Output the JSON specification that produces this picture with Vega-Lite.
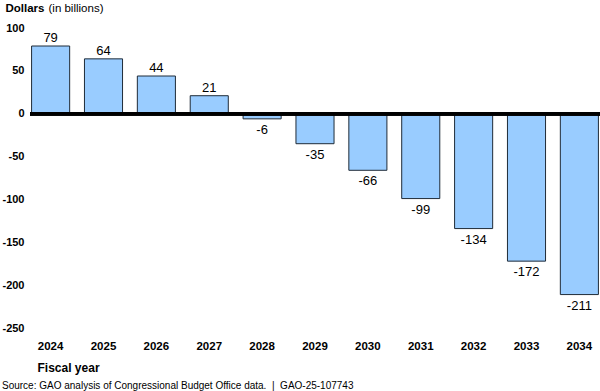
{
  "$schema": "https://vega.github.io/schema/vega-lite/v6.json",
  "width": 570,
  "height": 300,
  "padding": {"top": 2, "left": 1, "right": 0, "bottom": 0},
  "background": "white",
  "config": {
    "view": {"stroke": null},
    "font": "Liberation Sans",
    "axis": {"labelColor": "#000000", "titleColor": "#000000", "grid": false, "domain": false, "ticks": false, "tickSize": 0}
  },
  "title": {
    "text": "Source: GAO analysis of Congressional Budget Office data.\u00a0\u00a0|\u00a0\u00a0GAO-25-107743",
    "orient": "bottom",
    "anchor": "start",
    "frame": "bounds",
    "fontSize": 10,
    "fontWeight": "normal",
    "color": "#000000",
    "font": "Liberation Sans",
    "offset": 8
  },
  "data": {
    "values": [
      {"year": "2024", "value": 79},
      {"year": "2025", "value": 64},
      {"year": "2026", "value": 44},
      {"year": "2027", "value": 21},
      {"year": "2028", "value": -6},
      {"year": "2029", "value": -35},
      {"year": "2030", "value": -66},
      {"year": "2031", "value": -99},
      {"year": "2032", "value": -134},
      {"year": "2033", "value": -172},
      {"year": "2034", "value": -211}
    ]
  },
  "layer": [
    {
      "mark": {"type": "bar", "fill": "#99CCFF", "stroke": "#1F2B38", "strokeWidth": 1},
      "encoding": {
        "x": {
          "field": "year",
          "type": "nominal",
          "scale": {"paddingInner": 0.28, "paddingOuter": 0.03},
          "axis": {
            "labelAngle": 0,
            "labelFontSize": 11.5,
            "labelFontWeight": "bold",
            "labelPadding": 12,
            "title": "Fiscal year",
            "titleFontSize": 12,
            "titleFontWeight": "bold",
            "titleAnchor": "start",
            "titleAlign": "left",
            "titleBaseline": "top",
            "titleX": 7,
            "titleY": 34
          }
        },
        "y": {
          "field": "value",
          "type": "quantitative",
          "scale": {"domain": [-250, 100], "nice": false},
          "axis": {
            "orient": "left",
            "values": [100, 50, 0, -50, -100, -150, -200, -250],
            "labelExpr": "replace(datum.label, '\u2212', '-')",
            "labelFontSize": 11,
            "labelFontWeight": "bold",
            "labelPadding": 6,
            "title": "Dollars",
            "titleFontSize": 11.5,
            "titleFontWeight": "bold",
            "titleAngle": 0,
            "titleAlign": "left",
            "titleBaseline": "top",
            "titleX": -25,
            "titleY": -26
          }
        }
      }
    },
    {
      "mark": {"type": "rule", "color": "#000000", "strokeWidth": 3},
      "encoding": {
        "y": {"datum": 0, "type": "quantitative", "scale": {"domain": [-250, 100], "nice": false}, "axis": null}
      }
    },
    {
      "transform": [{"filter": "datum.value >= 0"}],
      "mark": {"type": "text", "baseline": "alphabetic", "dy": -4, "fontSize": 13, "color": "#000000"},
      "encoding": {
        "x": {"field": "year", "type": "nominal"},
        "y": {
          "field": "value",
          "type": "quantitative",
          "scale": {"domain": [-250, 100], "nice": false},
          "axis": {
            "orient": "right",
            "labels": false,
            "title": "(in billions)",
            "titleFontSize": 11.5,
            "titleFontWeight": "normal",
            "titleAngle": 0,
            "titleAlign": "left",
            "titleBaseline": "top",
            "titleX": -552,
            "titleY": -26
          }
        },
        "text": {"field": "value", "type": "nominal"}
      }
    },
    {
      "transform": [{"filter": "datum.value < 0"}],
      "mark": {"type": "text", "baseline": "top", "dy": 5, "fontSize": 13, "color": "#000000"},
      "encoding": {
        "x": {"field": "year", "type": "nominal"},
        "y": {"field": "value", "type": "quantitative", "scale": {"domain": [-250, 100], "nice": false}, "axis": null},
        "text": {"field": "value", "type": "nominal"}
      }
    }
  ],
  "resolve": {"axis": {"y": "independent"}}
}
